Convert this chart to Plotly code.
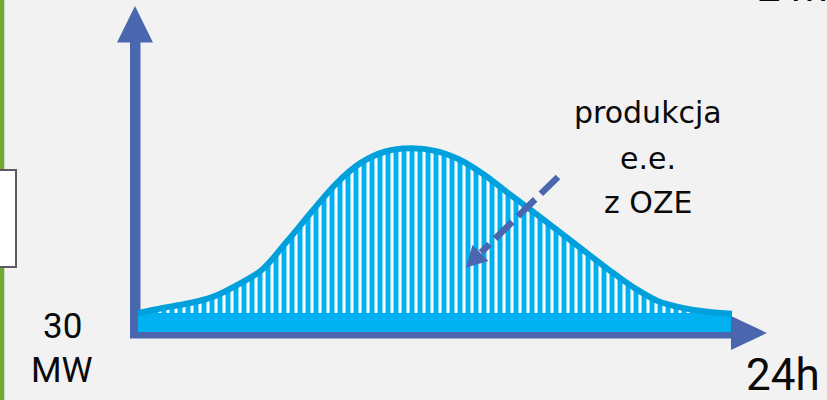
import plotly.graph_objects as go

# ---------------- data ----------------
hours = list(range(25))
production_mw = [30, 38, 45, 55, 74, 98, 142, 189, 234, 267, 285, 290, 286,
                 272, 248, 218, 189, 159, 129, 99, 71, 49, 38, 32, 29]
baseload_hours = [0, 24]
baseload_mw = [30, 30]
label_lines = ["produkcja", "e.e.", "z OZE"]
y_label_lines = ["30", "MW"]
x_label = "24h"
top_cut_label = "2 mln"

# ---------------- geometry / style ----------------
W, H = 827, 400
X0_PX, PX_PER_H = 138, 24.75          # pixel of hour 0, pixels per hour
Y0_PX, PX_PER_MW = 332, 19 / 30       # pixel of 0 MW, pixels per MW
x_range = [(0 - X0_PX) / PX_PER_H, (W - X0_PX) / PX_PER_H]
y_range = [(Y0_PX - H) / PX_PER_MW, Y0_PX / PX_PER_MW]

BG = "#F2F2F2"
AXIS_BLUE = "#4A66AE"
BAR_BLUE = "#00B0F0"
LINE_BLUE = "#00A0DC"
GREEN = "#6FAA35"
TEXT = "#0A0A0A"


def px(x):
    return x / W


def py(y):
    return 1 - y / H


def path(points):
    return "M " + " L ".join(f"{px(x):.5f},{py(y):.5f}" for x, y in points) + " Z"


fig = go.Figure()

# baseload bar (30 MW)
fig.add_trace(go.Scatter(
    x=baseload_hours, y=baseload_mw, mode="lines", fill="tozeroy",
    fillcolor=BAR_BLUE, line=dict(width=0, color=BAR_BLUE),
    hoverinfo="skip", showlegend=False))

# renewable production curve with striped fill
fig.add_trace(go.Scatter(
    x=hours, y=production_mw, mode="lines", fill="tonexty",
    line=dict(color=LINE_BLUE, width=6, shape="spline", smoothing=1.0),
    fillpattern=dict(shape="|", size=8, solidity=0.62, fgcolor=BAR_BLUE,
                     bgcolor="#FFFFFF", fillmode="replace"),
    hoverinfo="skip", showlegend=False))

shapes = []
# green vertical line at left edge
shapes.append(dict(type="rect", xref="paper", yref="paper", x0=px(0), x1=px(4.3),
                   y0=py(400), y1=py(0), fillcolor=GREEN, line=dict(width=0), layer="below"))
# white box at left
shapes.append(dict(type="rect", xref="paper", yref="paper", x0=px(-4), x1=px(16),
                   y0=py(267), y1=py(170), fillcolor="#FFFFFF",
                   line=dict(color="#5E5A63", width=2), layer="below"))
# y axis shaft + head
shapes.append(dict(type="rect", xref="paper", yref="paper", x0=px(130), x1=px(140.5),
                   y0=py(338), y1=py(40), fillcolor=AXIS_BLUE, line=dict(width=0), layer="below"))
shapes.append(dict(type="path", xref="paper", yref="paper",
                   path=path([(117, 42.5), (153, 42.5), (135, 6)]),
                   fillcolor=AXIS_BLUE, line=dict(width=0), layer="above"))
# x axis shaft + head
shapes.append(dict(type="rect", xref="paper", yref="paper", x0=px(130), x1=px(733),
                   y0=py(338.5), y1=py(327.5), fillcolor=AXIS_BLUE, line=dict(width=0), layer="below"))
shapes.append(dict(type="path", xref="paper", yref="paper",
                   path=path([(731, 316), (731, 350), (767, 333)]),
                   fillcolor=AXIS_BLUE, line=dict(width=0), layer="above"))
# dashed pointer arrow
shapes.append(dict(type="line", xref="paper", yref="paper",
                   x0=px(558), y0=py(177), x1=px(481), y1=py(252.5),
                   line=dict(color=AXIS_BLUE, width=6.5, dash="24px,8px"), layer="above"))
shapes.append(dict(type="path", xref="paper", yref="paper",
                   path=path([(472.5, 245), (488.5, 261), (466, 267.5)]),
                   fillcolor=AXIS_BLUE, line=dict(width=0), layer="above"))

annotations = []
label_font = dict(family="DejaVu Sans", size=30, color=TEXT)
for text, yc in zip(label_lines, [113, 158, 203]):
    annotations.append(dict(text=text, xref="paper", yref="paper", x=px(648), y=py(yc),
                            xanchor="center", yanchor="middle", showarrow=False, font=label_font))
num_font = dict(family="Roboto", size=35, color=TEXT)
for text, yc in zip(y_label_lines, [326, 370]):
    annotations.append(dict(text=text, xref="paper", yref="paper", x=px(62), y=py(yc),
                            xanchor="center", yanchor="middle", showarrow=False, font=num_font))
annotations.append(dict(text=x_label, xref="paper", yref="paper", x=px(783), y=py(375),
                        xanchor="center", yanchor="middle", showarrow=False,
                        font=dict(family="Roboto", size=44, color=TEXT)))
annotations.append(dict(text=top_cut_label, xref="paper", yref="paper", x=px(755), y=py(-14),
                        xanchor="left", yanchor="middle", showarrow=False,
                        font=dict(family="Roboto", size=42, color=TEXT)))

fig.update_layout(
    width=W, height=H, margin=dict(l=0, r=0, t=0, b=0, pad=0),
    paper_bgcolor=BG, plot_bgcolor="rgba(0,0,0,0)",
    xaxis=dict(range=x_range, visible=False, fixedrange=True),
    yaxis=dict(range=y_range, visible=False, fixedrange=True),
    shapes=shapes, annotations=annotations, showlegend=False,
)

fig.write_html("out.html", config={"displayModeBar": False})
